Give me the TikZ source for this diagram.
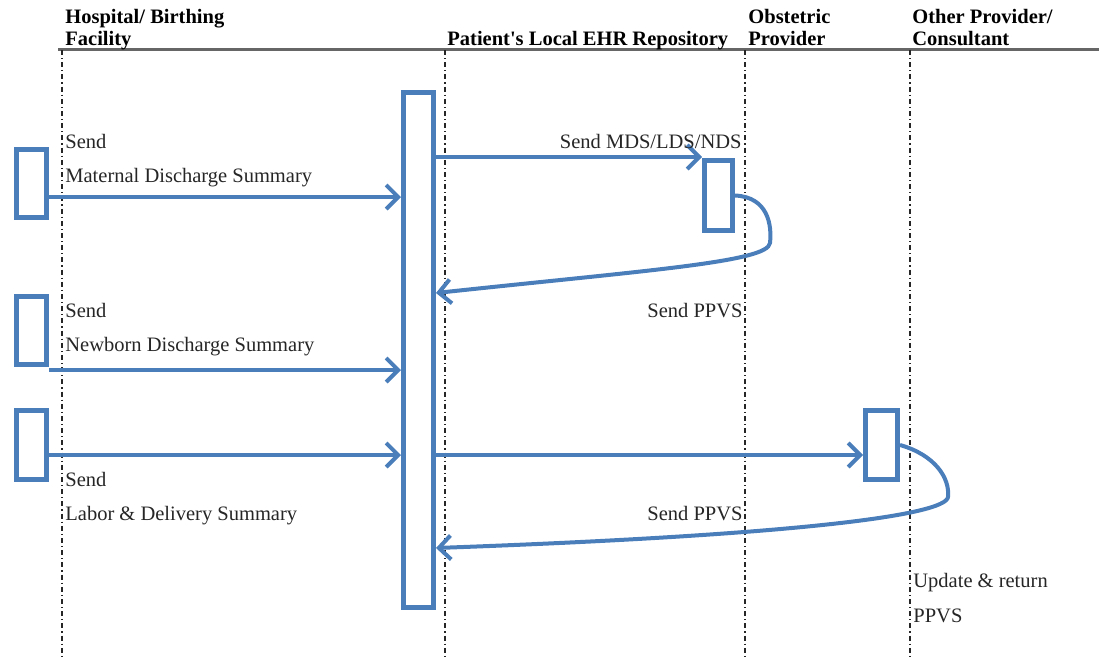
\documentclass[tikz,border=0pt]{standalone}
\usepackage{fontspec}
\setmainfont{Liberation Serif}
\usetikzlibrary{arrows.meta}

\definecolor{boxblue}{RGB}{74,126,187}

\tikzset{
    act/.style = {draw=boxblue, line width=2.5pt, fill=white, inner sep=0pt,
                  minimum width=15pt, minimum height=35pt},
    msg/.style = {boxblue, line width=2pt, -{Straight Barb[length=6pt,width=12pt]}},
    life/.style = {black!85, line width=1.2pt,
                   dash pattern=on 2.5pt off 1.5pt on 0.6pt off 1.5pt},
    hdr/.style = {inner sep=0pt, align=left, font=\bfseries\fontsize{10.25}{10.75}\selectfont},
    lbl/.style = {inner sep=0pt, align=left, text=black!85, font=\fontsize{10.25}{17.2}\selectfont}
}

\begin{document}
\begin{tikzpicture}[x=0.5pt, y=-0.5pt]
    \useasboundingbox (0,0) rectangle (1099,659);

    % lanes
    \draw[black!60, line width=1.5pt] (58,49) -- (1099,49);
    \foreach \x in {62, 445, 745, 910}
        \draw[life] (\x,50) -- (\x,659);

    \node[hdr, anchor=base west] (thosp) at (65,45) {Hospital/ Birthing\\Facility};
    \node[hdr, anchor=base west] (tehr) at (447,45) {Patient\textquotesingle s Local EHR Repository};
    \node[hdr, anchor=base west] (tobst) at (748,45) {Obstetric\\Provider};
    \node[hdr, anchor=base west] (tother) at (912,45) {Other Provider/\\Consultant};

    % activation boxes
    \node[act, minimum height=257.5pt] (ehr) at (418.5,350) {};
    \node[act, minimum height=34pt] (hosp1) at (31.5,183.5) {};
    \node[act, minimum height=34pt] (hosp2) at (31.5,330.5) {};
    \node[act, minimum height=34.5pt] (hosp3) at (31.5,444.5) {};
    \node[act, minimum width=14pt] (obst) at (718.5,195.5) {};
    \node[act, minimum width=16pt, minimum height=34.5pt] (other) at (881.5,445) {};

    % message rows
    \coordinate (rmat) at (0,197);
    \coordinate (rnew) at (0,370);
    \coordinate (rlab) at (0,455);
    \coordinate (rmds) at (0,157);
    \coordinate (rret1) at (0,293);
    \coordinate (rret2) at (0,548);

    \draw[msg] (hosp1.east |- rmat) -- (ehr.west |- rmat);
    \draw[msg] (hosp2.east |- rnew) -- (ehr.west |- rnew);
    \draw[msg] (hosp3.east |- rlab) -- (ehr.west |- rlab);
    \draw[msg] (ehr.east |- rmds) -- (obst.west |- rmds);
    \draw[msg] (ehr.east |- rlab) -- (other.west |- rlab);

    \draw[msg] (obst.east) .. controls (768,197) and (772,225) .. (770,243)
        .. controls (768,262) and (650,270) .. (ehr.east |- rret1);
    \draw[msg] (other.east) .. controls (935,455) and (950,478) .. (948,497)
        .. controls (946,515) and (800,535) .. (ehr.east |- rret2);

    % labels
    \node[lbl, anchor=base west] (smat) at (65,182.7) {Send\\Maternal Discharge Summary};
    \node[lbl, anchor=base west] (snew) at (65,351.7) {Send\\Newborn Discharge Summary};
    \node[lbl, anchor=base west] (slab) at (65,520.7) {Send\\Labor \& Delivery Summary};
    \node[lbl, anchor=base east] (smds) at (742,148.3) {Send MDS/LDS/NDS};
    \node[lbl, anchor=base east] (sppvs1) at (743,317.3) {Send PPVS};
    \node[lbl, anchor=base east] (sppvs2) at (743,520.7) {Send PPVS};
    \node[lbl, anchor=base west] (supd) at (913,622.3) {Update \& return\\PPVS};
\end{tikzpicture}
\end{document}
